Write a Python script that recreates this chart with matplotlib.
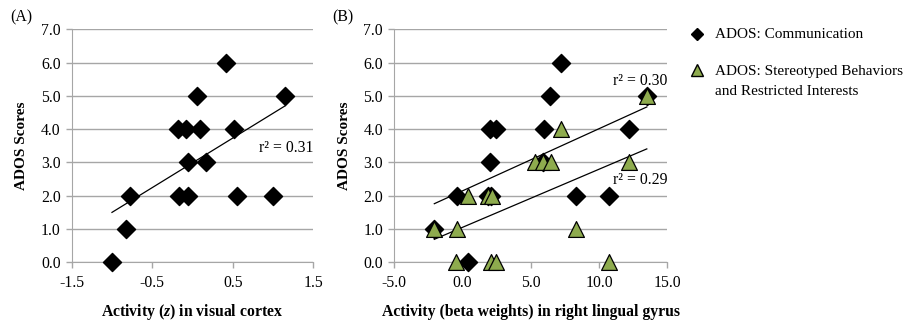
import numpy as np
import matplotlib
matplotlib.use("Agg")
import matplotlib.pyplot as plt
from matplotlib.lines import Line2D

plt.rcParams['font.family'] = ['Liberation Serif', 'DejaVu Serif']
plt.rcParams['mathtext.fontset'] = 'custom'
plt.rcParams['mathtext.rm'] = 'Liberation Serif'
plt.rcParams['mathtext.it'] = 'Liberation Serif:italic'
plt.rcParams['mathtext.bf'] = 'Liberation Serif:bold'
plt.rcParams['mathtext.bfit'] = 'Liberation Serif:italic:bold'

# Panel A: communication scores vs visual cortex activity (z)
a_x = [-1.0, -0.82, -0.77, -0.17, -0.06, 0.55, 1.0, -0.06, 0.17,
       -0.18, -0.08, 0.09, 0.51, 0.05, 1.15, 0.42]
a_y = [0, 1, 2, 2, 2, 2, 2, 3, 3, 4, 4, 4, 4, 5, 5, 6]

# Panel B: communication scores vs right lingual gyrus beta weights
b_comm_x = [0.4, -2.05, -0.4, 1.9, 2.1, 8.3, 10.7, 2.0, 5.9,
            2.0, 2.5, 6.0, 12.2, 6.4, 13.5, 7.2]
b_comm_y = [0, 1, 2, 2, 2, 2, 2, 3, 3, 4, 4, 4, 4, 5, 5, 6]

# Panel B: stereotyped behaviours scores
b_ster_x = [-0.45, 2.1, 2.45, 10.7, -2.05, -0.4, 8.3, 0.4, 1.9, 2.15,
            5.3, 5.9, 6.5, 12.2, 7.2, 13.5]
b_ster_y = [0, 0, 0, 0, 1, 1, 1, 2, 2, 2, 3, 3, 3, 3, 4, 5]

r2_labels = ["r² = 0.31", "r² = 0.30", "r² = 0.29"]
legend_labels = ["ADOS: Communication", "ADOS: Stereotyped Behaviors",
                 "and Restricted Interests"]
y_ticks = [0, 1, 2, 3, 4, 5, 6, 7]
a_xticks = [-1.5, -0.5, 0.5, 1.5]
b_xticks = [-5.0, 0.0, 5.0, 10.0, 15.0]

GREEN = '#8eab4e'
W, H = 913, 329
FS = 11.3
LFS = 11.3
fig = plt.figure(figsize=(W / 100, H / 100), dpi=100)

def ax_rect(l, r, t, b):
    return [l / W, 1 - b / H, (r - l) / W, (b - t) / H]

axA = fig.add_axes(ax_rect(71.7, 313.3, 29.3, 262.3))
axB = fig.add_axes(ax_rect(394, 667.3, 29.3, 262.3))

def style(ax, xticks, fmt, ylab_x):
    ax.set_ylim(0, 7)
    ax.set_xlim(xticks[0], xticks[-1])
    ax.set_yticks(y_ticks)
    ax.set_yticklabels([f"{v:.1f}" for v in y_ticks], fontsize=FS)
    ax.set_xticks(xticks)
    ax.set_xticklabels([fmt(v) for v in xticks], fontsize=FS)
    ax.grid(axis='y', color='#a6a6a6', linewidth=1.0)
    ax.set_axisbelow(True)
    for s in ['top', 'right']:
        ax.spines[s].set_visible(False)
    for s in ['left', 'bottom']:
        ax.spines[s].set_color('#a6a6a6')
    ax.tick_params(axis='both', color='#a6a6a6', length=4, width=1)
    ax.tick_params(axis='y', pad=4)
    ax.tick_params(axis='x', pad=5)
    ax.set_ylabel("ADOS Scores", fontsize=11, fontweight='bold')
    ax.yaxis.set_label_coords(ylab_x, 0.5)
    ax.yaxis.label.set_va('center')

def fitline(ax, x, y):
    x = np.asarray(x, float); y = np.asarray(y, float)
    m, c = np.polyfit(x, y, 1)
    xs = np.array([x.min(), x.max()])
    ax.plot(xs, m * xs + c, color='black', linewidth=0.9, zorder=2)

def xlab(ax, text):
    ax.set_xlabel(text, fontsize=LFS, fontweight='bold')
    ax.xaxis.set_label_coords(0.5, -(312 - 262.3) / 233.0)
    ax.xaxis.label.set_va('center')

style(axA, a_xticks, lambda v: f"{v:.1f}", -50 / 241.6)
fitline(axA, a_x, a_y)
axA.scatter(a_x, a_y, marker='D', s=85, color='black', zorder=3, clip_on=False)
xlab(axA, "Activity ($\\mathbfit{z}$) in visual cortex")
axA.text(1.5, 3.42, r2_labels[0], ha='right', va='center', fontsize=FS)

style(axB, b_xticks, lambda v: f"{v:.1f}", -50 / 273.3)
fitline(axB, b_comm_x, b_comm_y)
fitline(axB, b_ster_x, b_ster_y)
axB.scatter(b_comm_x, b_comm_y, marker='D', s=85, color='black', zorder=3, clip_on=False)
axB.scatter(b_ster_x, b_ster_y, marker='^', s=130, color=GREEN, edgecolor='black',
            linewidth=0.9, zorder=4, clip_on=False)
xlab(axB, "Activity (beta weights) in right lingual gyrus")
axB.text(15.0, 5.44, r2_labels[1], ha='right', va='center', fontsize=FS)
axB.text(15.0, 2.47, r2_labels[2], ha='right', va='center', fontsize=FS)

fig.text(10 / W, 1 - 17 / H, "(A)", fontsize=FS, va='center', ha='left')
fig.text(332 / W, 1 - 17 / H, "(B)", fontsize=FS, va='center', ha='left')

# legend (manual)
fig.add_artist(Line2D([697 / W], [1 - 34 / H], transform=fig.transFigure, marker='D',
                      linestyle='none', color='black', markersize=6))
fig.add_artist(Line2D([697 / W], [1 - 70 / H], transform=fig.transFigure, marker='^',
                      linestyle='none', markerfacecolor=GREEN, markeredgecolor='black',
                      markersize=8))
fig.text(715 / W, 1 - 35 / H, legend_labels[0], fontsize=11, va='center', ha='left')
fig.text(715 / W, 1 - 71 / H, legend_labels[1], fontsize=11, va='center', ha='left')
fig.text(715 / W, 1 - 91 / H, legend_labels[2], fontsize=11, va='center', ha='left')

fig.savefig("out.png", dpi=100)
